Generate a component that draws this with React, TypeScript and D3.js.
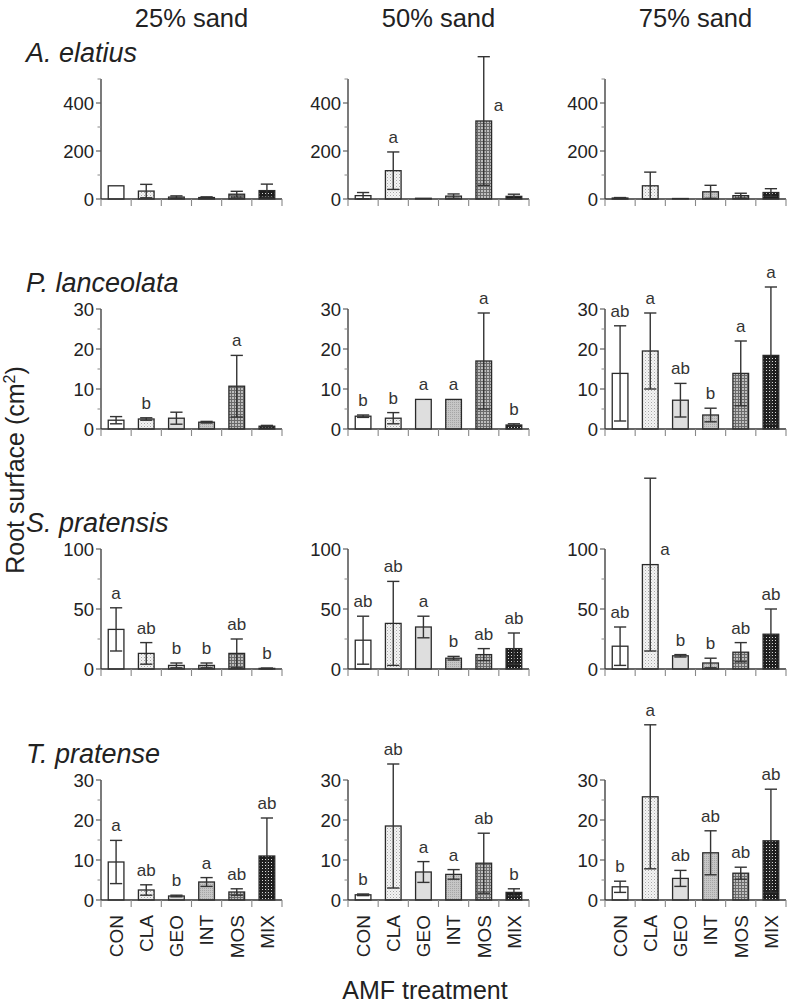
import React from "react";
import * as d3 from "d3";

const treatments = ["CON", "CLA", "GEO", "INT", "MOS", "MIX"];
const sands = ["25% sand", "50% sand", "75% sand"];
const species = ["A. elatius", "P. lanceolata", "S. pratensis", "T. pratense"];

// y-axis definitions per species row
const yMaxes = [500, 30, 100, 30];
const yMajorTicks = [[0, 200, 400], [0, 10, 20, 30], [0, 50, 100], [0, 10, 20, 30]];
const yMinorTicks = [[100, 300, 500], [5, 15, 25], [25, 75], [5, 15, 25]];

// A. elatius
const elatiusMean = [[55, 33, 8, 6, 20, 35], [14, 118, 3, 12, 325, 11], [4, 55, 2, 30, 14, 27]];
const elatiusErr = [[0, 28, 5, 3, 12, 27], [13, 78, 0, 9, 268, 9], [2, 57, 0, 27, 10, 16]];
const elatiusLetters = [["", "", "", "", "", ""], ["", "a", "", "", "a", ""], ["", "", "", "", "", ""]];

// P. lanceolata
const lanceolataMean = [[2.2, 2.5, 2.7, 1.7, 10.7, 0.7], [3.2, 2.7, 7.4, 7.4, 17, 1.0], [13.9, 19.5, 7.2, 3.5, 13.9, 18.4]];
const lanceolataErr = [[0.9, 0.3, 1.5, 0.2, 7.7, 0.2], [0.3, 1.4, 0, 0, 12, 0.3], [11.9, 9.5, 4.2, 1.7, 8.1, 17.1]];
const lanceolataLetters = [["", "b", "", "", "a", ""], ["b", "b", "a", "a", "a", "b"], ["ab", "a", "ab", "b", "a", "a"]];

// S. pratensis
const pratensisMean = [[33, 13, 3, 3, 13, 0.5], [24, 38, 35, 9, 12, 17], [19, 87, 11, 5, 14, 29]];
const pratensisErr = [[18, 9, 2, 2, 12, 0.3], [20, 35, 9, 1.5, 5, 13], [16, 72, 1, 4, 8, 21]];
const pratensisLetters = [["a", "ab", "b", "b", "ab", "b"], ["ab", "ab", "a", "b", "ab", "ab"], ["ab", "a", "b", "b", "ab", "ab"]];

// T. pratense
const pratenseMean = [[9.5, 2.5, 1.0, 4.5, 2.0, 11], [1.3, 18.5, 7.0, 6.4, 9.2, 1.9], [3.3, 25.8, 5.4, 11.8, 6.7, 14.8]];
const pratenseErr = [[5.4, 1.3, 0.2, 1.1, 0.8, 9.5], [0.2, 15.5, 2.6, 1.2, 7.5, 0.9], [1.4, 18, 2, 5.5, 1.5, 12.9]];
const pratenseLetters = [["a", "ab", "b", "a", "ab", "ab"], ["b", "ab", "a", "a", "ab", "b"], ["b", "a", "ab", "ab", "ab", "ab"]];

// letters drawn beside the bar instead of above: "species-sand-treatment"
const lettersBeside = ["0-1-4", "2-2-1"];

const allMeans = [elatiusMean, lanceolataMean, pratensisMean, pratenseMean];
const allErrs = [elatiusErr, lanceolataErr, pratensisErr, pratenseErr];
const allLetters = [elatiusLetters, lanceolataLetters, pratensisLetters, pratenseLetters];

const fills = ["#ffffff", "url(#pCLA)", "#dedede", "url(#pINT)", "url(#pMOS)", "url(#pMIX)"];

const W = 789;
const H = 1004;
const colX = [101, 348, 605];
const plotW = 181;
const rowZero = [199, 429, 669, 900];
const plotH = 120;
const FONT = "'Liberation Sans', Arial, Helvetica, sans-serif";

function Panel({ r, c }: { r: number; c: number }) {
  const x0 = colX[c];
  const y0 = rowZero[r];
  const x = d3.scaleBand<string>().domain(treatments).range([x0, x0 + plotW]).paddingInner(0.48).paddingOuter(0.24);
  const y = d3.scaleLinear().domain([0, yMaxes[r]]).range([y0, y0 - plotH]);
  const step = plotW / treatments.length;
  const means = allMeans[r][c];
  const errs = allErrs[r][c];
  const letters = allLetters[r][c];
  const bw = x.bandwidth();
  const capW = bw * 0.78;
  return (
    <g>
      {treatments.map((t, i) => {
        const v = means[i];
        const e = errs[i];
        const bx = x(t)!;
        const cx = bx + bw / 2;
        const top = y(v);
        const eTop = y(v + e);
        const eBot = y(Math.max(0, v - e));
        const key = `${r}-${c}-${i}`;
        const beside = lettersBeside.includes(key);
        return (
          <g key={t}>
            <rect x={bx} y={top} width={bw} height={y0 - top} fill={fills[i]} stroke="#2a2a2a" strokeWidth={1.3} />
            {e > 0 && (
              <g stroke="#333" strokeWidth={1.4}>
                <line x1={cx} x2={cx} y1={eTop} y2={eBot} />
                <line x1={cx - capW / 2} x2={cx + capW / 2} y1={eTop} y2={eTop} />
                <line x1={cx - capW / 2} x2={cx + capW / 2} y1={eBot} y2={eBot} />
              </g>
            )}
            {letters[i] &&
              (beside ? (
                <text x={cx + 10} y={top - 10} fontSize={17} fill="#333" fontFamily={FONT}>{letters[i]}</text>
              ) : (
                <text x={cx} y={eTop - 9} fontSize={17} fill="#333" textAnchor="middle" fontFamily={FONT}>{letters[i]}</text>
              ))}
          </g>
        );
      })}
      <line x1={x0} x2={x0} y1={y0} y2={y(yMaxes[r])} stroke="#333" strokeWidth={1.3} />
      {yMinorTicks[r].map((t) => (
        <line key={"m" + t} x1={x0 - 3.5} x2={x0} y1={y(t)} y2={y(t)} stroke="#888" strokeWidth={1} />
      ))}
      {yMajorTicks[r].map((t) => (
        <g key={"M" + t}>
          <line x1={x0 - 5} x2={x0} y1={y(t)} y2={y(t)} stroke="#555" strokeWidth={1.1} />
          <text x={x0 - 7} y={y(t)} dy="0.36em" textAnchor="end" fontSize={18.5} fill="#222" fontFamily={FONT}>{t}</text>
        </g>
      ))}
      <line x1={x0} x2={x0 + plotW} y1={y0} y2={y0} stroke="#333" strokeWidth={1.3} />
      {d3.range(treatments.length + 1).map((k) => (
        <line key={"xt" + k} x1={x0 + k * step} x2={x0 + k * step} y1={y0} y2={y0 + 7} stroke="#888" strokeWidth={1.1} />
      ))}
      {r === species.length - 1 &&
        treatments.map((t) => (
          <text
            key={"xl" + t}
            transform={`translate(${x(t)! + bw / 2},${y0 + 15}) rotate(-90)`}
            textAnchor="end"
            dy="0.36em"
            fontSize={19}
            fill="#222"
            fontFamily={FONT}
          >
            {t}
          </text>
        ))}
    </g>
  );
}

export default function App() {
  return (
    <svg width={W} height={H} style={{ position: "absolute", left: 0, top: 0, background: "#fff" }}>
      <defs>
        <pattern id="pCLA" width="3" height="3" patternUnits="userSpaceOnUse">
          <rect width="3" height="3" fill="#f4f4f4" />
          <rect x="0" y="0" width="1" height="1" fill="#a8a8a8" />
          <rect x="1.5" y="1.5" width="1" height="1" fill="#c8c8c8" />
        </pattern>
        <pattern id="pINT" width="2" height="2" patternUnits="userSpaceOnUse">
          <rect width="2" height="2" fill="#c6c6c6" />
          <rect x="0" y="0" width="1" height="1" fill="#a6a6a6" />
        </pattern>
        <pattern id="pMOS" width="3" height="3" patternUnits="userSpaceOnUse">
          <rect width="3" height="3" fill="#bdbdbd" />
          <rect x="0" y="0" width="3" height="1" fill="#6a6a6a" />
          <rect x="0" y="0" width="1" height="3" fill="#6a6a6a" />
        </pattern>
        <pattern id="pMIX" width="3" height="3" patternUnits="userSpaceOnUse">
          <rect width="3" height="3" fill="#1e1e1e" />
          <rect x="1" y="1" width="1" height="1" fill="#d8d8d8" />
        </pattern>
      </defs>
      {sands.map((s, c) => (
        <text key={s} x={colX[c] + plotW / 2} y={27} textAnchor="middle" fontSize={25.5} fill="#222" fontFamily={FONT}>
          {s}
        </text>
      ))}
      {species.map((sp, r) => (
        <text key={sp} x={26} y={rowZero[r] - 137} fontSize={27} fontStyle="italic" fill="#222" fontFamily={FONT}>
          {sp}
        </text>
      ))}
      {species.map((_, r) => sands.map((__, c) => <Panel key={`${r}-${c}`} r={r} c={c} />))}
      <text transform="translate(24,470) rotate(-90)" textAnchor="middle" fontSize={25} fill="#222" fontFamily={FONT}>
        Root surface (cm<tspan dy="-9" fontSize={16}>2</tspan><tspan dy="9">)</tspan>
      </text>
      <text x={425} y={999} textAnchor="middle" fontSize={25} fill="#222" fontFamily={FONT}>
        AMF treatment
      </text>
    </svg>
  );
}
